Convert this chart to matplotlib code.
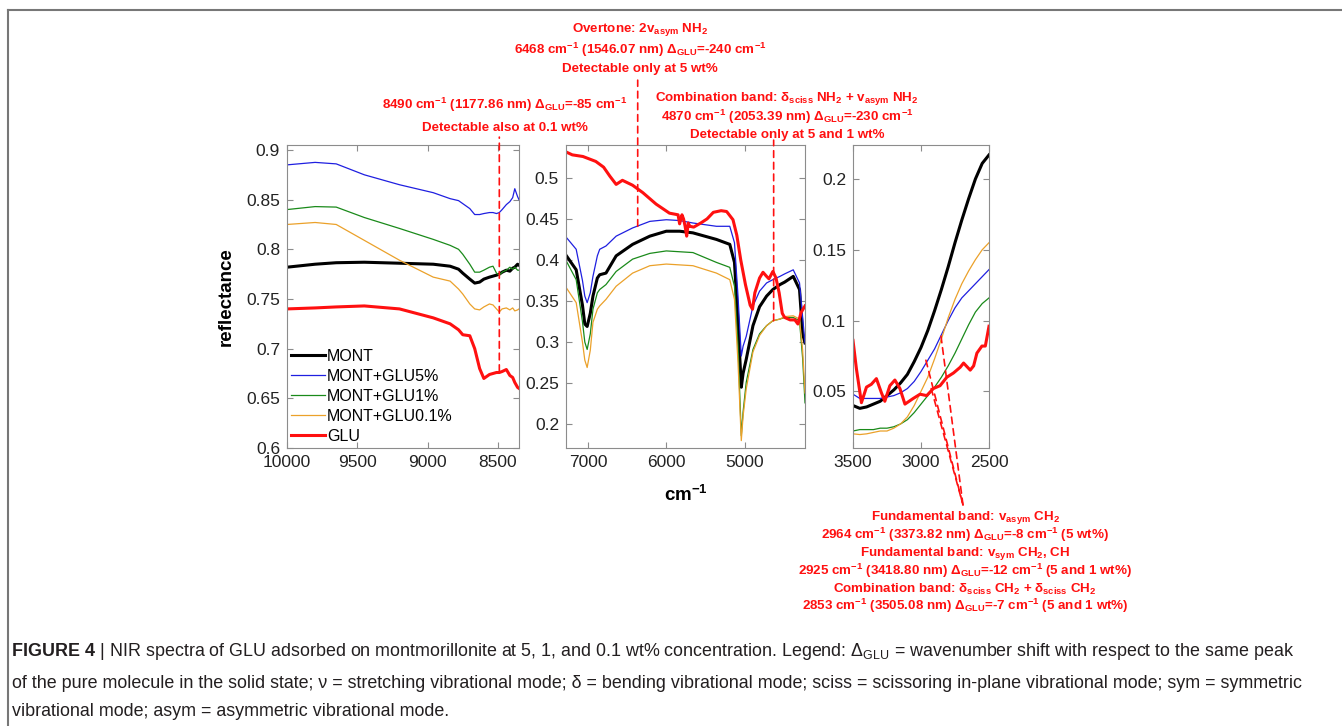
import matplotlib
matplotlib.use("Agg")
import matplotlib.pyplot as plt
from matplotlib.patches import ConnectionPatch
from matplotlib.lines import Line2D
from matplotlib.ticker import FormatStrFormatter
from matplotlib.transforms import blended_transform_factory

# ---- panel 1: 10000-8350 cm-1 ----
wn1 = [10000, 9800, 9650, 9450, 9200, 8960, 8840, 8780, 8750, 8700, 8665, 8630,
       8600, 8560, 8535, 8510, 8490, 8470, 8440, 8415, 8395, 8380, 8360, 8350]
mont1 = [0.782, 0.785, 0.7865, 0.787, 0.786, 0.785, 0.783, 0.780, 0.776, 0.770, 0.766, 0.767,
         0.770, 0.772, 0.773, 0.774, 0.775, 0.777, 0.779, 0.778, 0.781, 0.782, 0.785, 0.784]
glu5_1 = [0.885, 0.8875, 0.886, 0.875, 0.865, 0.857, 0.851, 0.849, 0.846, 0.841, 0.835, 0.835,
          0.836, 0.837, 0.837, 0.836, 0.837, 0.840, 0.845, 0.848, 0.852, 0.861, 0.853, 0.850]
glu1_1 = [0.840, 0.843, 0.8425, 0.832, 0.821, 0.810, 0.804, 0.800, 0.795, 0.785, 0.777, 0.777,
          0.779, 0.782, 0.783, 0.776, 0.774, 0.777, 0.779, 0.782, 0.780, 0.782, 0.779, 0.779]
glu01_1 = [0.825, 0.827, 0.825, 0.809, 0.789, 0.772, 0.768, 0.760, 0.755, 0.745, 0.740, 0.739,
           0.742, 0.745, 0.744, 0.740, 0.737, 0.740, 0.741, 0.739, 0.741, 0.738, 0.739, 0.740]
glu_1 = [0.740, 0.741, 0.742, 0.743, 0.740, 0.731, 0.725, 0.719, 0.714, 0.713, 0.700, 0.680,
         0.670, 0.674, 0.675, 0.676, 0.676, 0.677, 0.679, 0.673, 0.671, 0.666, 0.661, 0.660]

# ---- panel 2: 7280-4230 cm-1 ----
wn2 = [7289, 7150, 7070, 7040, 7010, 6970, 6936, 6880, 6850, 6770, 6640, 6430, 6210, 6000,
       5830, 5660, 5360, 5190, 5130, 5085, 5043, 5020, 4980, 4894, 4810, 4720, 4640, 4550,
       4490, 4380, 4300, 4260, 4230]
mont2 = [0.407, 0.388, 0.345, 0.322, 0.319, 0.335, 0.356, 0.378, 0.382, 0.384, 0.405, 0.419,
         0.429, 0.435, 0.435, 0.433, 0.425, 0.419, 0.397, 0.324, 0.245, 0.262, 0.279, 0.320,
         0.343, 0.356, 0.364, 0.370, 0.373, 0.380, 0.364, 0.310, 0.299]
glu5_2 = [0.429, 0.413, 0.375, 0.356, 0.348, 0.360, 0.380, 0.405, 0.413, 0.417, 0.429, 0.439,
          0.447, 0.449, 0.448, 0.445, 0.441, 0.441, 0.421, 0.356, 0.283, 0.295, 0.307, 0.344,
          0.362, 0.372, 0.376, 0.380, 0.383, 0.388, 0.372, 0.330, 0.299]
glu1_2 = [0.401, 0.376, 0.325, 0.300, 0.291, 0.310, 0.340, 0.360, 0.364, 0.370, 0.386, 0.401,
          0.408, 0.411, 0.410, 0.409, 0.397, 0.391, 0.368, 0.295, 0.186, 0.215, 0.251, 0.291,
          0.310, 0.320, 0.326, 0.328, 0.330, 0.330, 0.326, 0.280, 0.226]
glu01_2 = [0.368, 0.348, 0.300, 0.278, 0.269, 0.290, 0.324, 0.340, 0.344, 0.352, 0.368, 0.384,
           0.393, 0.395, 0.394, 0.393, 0.384, 0.376, 0.352, 0.275, 0.180, 0.210, 0.243, 0.288,
           0.308, 0.320, 0.326, 0.328, 0.331, 0.332, 0.328, 0.290, 0.238]
wn2_glu = [7289, 7200, 7064, 6900, 6800, 6720, 6640, 6560, 6430, 6300, 6130, 5960, 5850, 5830,
           5800, 5780, 5760, 5740, 5720, 5700, 5650, 5560, 5480, 5400, 5300, 5230, 5149, 5100,
           5050, 4990, 4930, 4900, 4870, 4810, 4766, 4720, 4690, 4640, 4600, 4560, 4520, 4490,
           4420, 4360, 4320, 4280, 4230]
glu_2 = [0.532, 0.528, 0.526, 0.520, 0.513, 0.502, 0.492, 0.497, 0.491, 0.482, 0.468, 0.457,
         0.455, 0.444, 0.455, 0.450, 0.441, 0.429, 0.445, 0.441, 0.440, 0.445, 0.450, 0.458,
         0.460, 0.459, 0.449, 0.430, 0.400, 0.370, 0.345, 0.340, 0.360, 0.378, 0.385, 0.380,
         0.377, 0.386, 0.378, 0.360, 0.335, 0.330, 0.327, 0.327, 0.322, 0.336, 0.344]

# ---- panel 3: 3500-2500 cm-1 ----
wn3 = [3500, 3450, 3400, 3350, 3300, 3250, 3200, 3150, 3100, 3050, 3000, 2950, 2900, 2850,
       2800, 2750, 2700, 2650, 2600, 2550, 2500]
mont3 = [0.040, 0.038, 0.039, 0.041, 0.043, 0.047, 0.051, 0.056, 0.062, 0.071, 0.081, 0.093,
         0.107, 0.122, 0.138, 0.155, 0.171, 0.186, 0.200, 0.211, 0.217]
glu5_3 = [0.048, 0.045, 0.045, 0.045, 0.045, 0.046, 0.047, 0.049, 0.052, 0.057, 0.064, 0.072,
          0.080, 0.090, 0.100, 0.109, 0.116, 0.121, 0.126, 0.131, 0.136]
glu1_3 = [0.022, 0.023, 0.023, 0.023, 0.024, 0.024, 0.025, 0.027, 0.030, 0.035, 0.041, 0.047,
          0.053, 0.060, 0.068, 0.077, 0.087, 0.097, 0.106, 0.112, 0.116]
glu01_3 = [0.020, 0.0195, 0.020, 0.021, 0.022, 0.022, 0.024, 0.027, 0.032, 0.040, 0.050, 0.060,
           0.073, 0.087, 0.102, 0.115, 0.126, 0.135, 0.143, 0.150, 0.155]
wn3_glu = [3500, 3475, 3438, 3401, 3365, 3328, 3291, 3266, 3229, 3192, 3155, 3118, 3057, 3007,
           2958, 2909, 2860, 2810, 2761, 2712, 2687, 2638, 2613, 2589, 2552, 2527, 2500]
glu_3 = [0.086, 0.066, 0.042, 0.053, 0.055, 0.059, 0.049, 0.043, 0.054, 0.058, 0.052, 0.041,
         0.045, 0.048, 0.047, 0.052, 0.054, 0.060, 0.063, 0.067, 0.070, 0.065, 0.068, 0.077,
         0.082, 0.082, 0.096]

labels = ["MONT", "MONT+GLU5%", "MONT+GLU1%", "MONT+GLU0.1%", "GLU"]
colors = ["black", "#1f1fe0", "#1a8a1a", "#eba12a", "#ff1010"]
widths = [2.2, 0.9, 0.9, 0.9, 2.2]

W, H = 1342, 726
plt.rcParams["font.family"] = "Liberation Sans"
plt.rcParams["mathtext.fontset"] = "custom"
plt.rcParams["mathtext.rm"] = "Liberation Sans"
plt.rcParams["mathtext.bf"] = "Liberation Sans:bold"
plt.rcParams["mathtext.it"] = "Liberation Sans:italic"

fig = plt.figure(figsize=(W / 100, H / 100), dpi=100)


def px(x, y):
    return x / W, 1 - y / H


def add_axes(x0, x1, y0=145, y1=448):
    return fig.add_axes([x0 / W, 1 - y1 / H, (x1 - x0) / W, (y1 - y0) / H])


ax1 = add_axes(287, 519)
ax2 = add_axes(566, 805)
ax3 = add_axes(853, 989)

panels = [
    (ax1, [wn1] * 5, [mont1, glu5_1, glu1_1, glu01_1, glu_1]),
    (ax2, [wn2] * 4 + [wn2_glu], [mont2, glu5_2, glu1_2, glu01_2, glu_2]),
    (ax3, [wn3] * 4 + [wn3_glu], [mont3, glu5_3, glu1_3, glu01_3, glu_3]),
]
for ax, xs, ys in panels:
    for x, y, lab, c, lw in zip(xs, ys, labels, colors, widths):
        ax.plot(x, y, color=c, lw=lw, label=lab)
    ax.tick_params(direction="in", top=True, right=True, labelsize=12.5, length=4,
                   color="#8c8c8c", labelcolor="#222222", pad=5)
    for s in ax.spines.values():
        s.set_color("#8c8c8c")
        s.set_linewidth(0.8)
    ax.yaxis.set_major_formatter(FormatStrFormatter("%g"))

ax1.set_xlim(10000, 8350)
ax1.set_ylim(0.6, 0.905)
ax1.set_xticks([10000, 9500, 9000, 8500])
ax1.set_yticks([0.6, 0.65, 0.7, 0.75, 0.8, 0.85, 0.9])
ax1.set_ylabel("reflectance", fontsize=13.5, fontweight="bold", labelpad=8)

ax2.set_xlim(7280, 4230)
ax2.set_ylim(0.171, 0.54)
ax2.set_xticks([7000, 6000, 5000])
ax2.set_yticks([0.2, 0.25, 0.3, 0.35, 0.4, 0.45, 0.5])
ax2.set_xlabel(r"cm$^{\mathbf{-1}}$", fontsize=13.5, fontweight="bold", labelpad=11)

ax3.set_xlim(3500, 2500)
ax3.set_ylim(0.01, 0.224)
ax3.set_xticks([3500, 3000, 2500])
ax3.set_yticks([0.05, 0.1, 0.15, 0.2])

ax1.legend(loc="lower left", frameon=False, fontsize=11.5, handlelength=2.1,
           handletextpad=0.15, labelspacing=0.32, borderaxespad=0.15, borderpad=0.1)

# dashed marker lines
red = "#ff1010"


def vline(ax, x, y_data, top_frac):
    tr = blended_transform_factory(ax.transData, ax.transAxes)
    con = ConnectionPatch(xyA=(x, y_data), coordsA=ax.transData, xyB=(x, top_frac), coordsB=tr,
                          color=red, lw=1.2, linestyle=(0, (4, 3)))
    fig.add_artist(con)


vline(ax1, 8490, 0.677, 1.026)
vline(ax2, 6365, 0.441, 1.214)
vline(ax2, 4630, 0.326, 1.016)

for xd, yd in [(2964, 0.072), (2925, 0.052), (2853, 0.089)]:
    con = ConnectionPatch(xyA=(xd, yd), coordsA=ax3.transData, xyB=px(963, 505),
                          coordsB=fig.transFigure, color=red, lw=1.2, linestyle=(0, (4, 3)))
    fig.add_artist(con)

# red annotation texts
ann_kw = dict(color=red, fontsize=9.6, fontweight="bold", ha="center", va="center")
blocks = [
    (640, [30, 50, 69], [r"Overtone: 2v$_{\mathbf{asym}}$ NH$_{\mathbf{2}}$",
                         r"6468 cm$^{\mathbf{-1}}$ (1546.07 nm) $\mathbf{\Delta_{GLU}}$=-240 cm$^{\mathbf{-1}}$",
                         "Detectable only at 5 wt%"]),
    (505, [105, 128], [r"8490 cm$^{\mathbf{-1}}$ (1177.86 nm) $\mathbf{\Delta_{GLU}}$=-85 cm$^{\mathbf{-1}}$",
                       "Detectable also at 0.1 wt%"]),
    (787, [99, 117, 135], [r"Combination band: δ$_{\mathbf{sciss}}$ NH$_{\mathbf{2}}$ + v$_{\mathbf{asym}}$ NH$_{\mathbf{2}}$",
                           r"4870 cm$^{\mathbf{-1}}$ (2053.39 nm) $\mathbf{\Delta_{GLU}}$=-230 cm$^{\mathbf{-1}}$",
                           "Detectable only at 5 and 1 wt%"]),
    (965, [517, 535, 553, 571, 589, 606],
     [r"Fundamental band: v$_{\mathbf{asym}}$ CH$_{\mathbf{2}}$",
      r"2964 cm$^{\mathbf{-1}}$ (3373.82 nm) $\mathbf{\Delta_{GLU}}$=-8 cm$^{\mathbf{-1}}$ (5 wt%)",
      r"Fundamental band: v$_{\mathbf{sym}}$ CH$_{\mathbf{2}}$, CH",
      r"2925 cm$^{\mathbf{-1}}$ (3418.80 nm) $\mathbf{\Delta_{GLU}}$=-12 cm$^{\mathbf{-1}}$ (5 and 1 wt%)",
      r"Combination band: δ$_{\mathbf{sciss}}$ CH$_{\mathbf{2}}$ + δ$_{\mathbf{sciss}}$ CH$_{\mathbf{2}}$",
      r"2853 cm$^{\mathbf{-1}}$ (3505.08 nm) $\mathbf{\Delta_{GLU}}$=-7 cm$^{\mathbf{-1}}$ (5 and 1 wt%)"]),
]
for xc, ys, lines in blocks:
    for y, s in zip(ys, lines):
        fig.text(*px(xc, y), s, **ann_kw)

# page frame (top and left rule)
fig.add_artist(Line2D([8 / W, 1], [1 - 10 / H, 1 - 10 / H], transform=fig.transFigure,
                      color="#777777", lw=1.5))
fig.add_artist(Line2D([8 / W, 8 / W], [0, 1 - 10 / H], transform=fig.transFigure,
                      color="#777777", lw=1.5))

# caption
cap_kw = dict(fontsize=12.9, color="#231f20", va="baseline")
t0 = fig.text(*px(12, 656), "FIGURE 4", fontweight="bold", **cap_kw)
fig.canvas.draw()
bb = t0.get_window_extent()
fig.text(bb.x1 / W, 1 - 656 / H,
         r" | NIR spectra of GLU adsorbed on montmorillonite at 5, 1, and 0.1 wt% concentration. "
         r"Legend: $\Delta_{\mathrm{GLU}}$ = wavenumber shift with respect to the same peak", **cap_kw)
fig.text(*px(12, 688), "of the pure molecule in the solid state; ν = stretching vibrational mode; "
                       "δ = bending vibrational mode; sciss = scissoring in-plane vibrational mode; "
                       "sym = symmetric", **cap_kw)
fig.text(*px(12, 716), "vibrational mode; asym = asymmetric vibrational mode.", **cap_kw)

fig.savefig("out.png", dpi=100)
